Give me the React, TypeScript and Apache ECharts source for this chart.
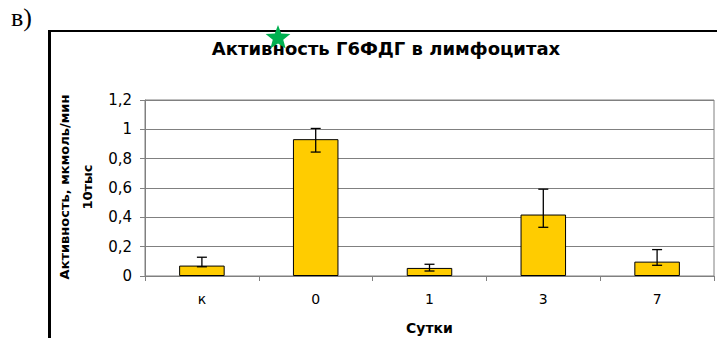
import React, { useEffect, useRef } from "react";
import * as echarts from "echarts";

// Days after exposure and G6PDH activity in lymphocytes
const days = ["к", "0", "1", "3", "7"];
const activity = [0.071, 0.933, 0.055, 0.419, 0.098];
const errLow = [0.063, 0.845, 0.034, 0.332, 0.073];
const errHigh = [0.128, 1.006, 0.08, 0.592, 0.18];
const yTicks = { min: 0, max: 1.2, interval: 0.2 };

const FONT = "DejaVu Sans";

// five-pointed star outline around a centre
function starPoints(cx: number, cy: number, rOuter: number, rInner: number) {
  const pts: number[][] = [];
  for (let i = 0; i < 10; i++) {
    const r = i % 2 === 0 ? rOuter : rInner;
    const a = -Math.PI / 2 + (i * Math.PI) / 5;
    pts.push([cx + r * Math.cos(a), cy + r * Math.sin(a)]);
  }
  return pts;
}

export default function App() {
  const ref = useRef<HTMLDivElement>(null);

  useEffect(() => {
    if (!ref.current) return;
    const chart = echarts.init(ref.current, null, { renderer: "svg" });

    const errData = days.map((_, i) => [i, errLow[i], errHigh[i]]);

    chart.setOption({
      animation: false,
      backgroundColor: "#ffffff",
      grid: {
        left: 145,
        right: 3,
        top: 100,
        bottom: 62,
        outerBoundsMode: "none",
        containLabel: false,
        show: true,
        borderColor: "#808080",
        borderWidth: 1,
      },
      xAxis: {
        type: "category",
        data: days,
        axisLine: { lineStyle: { color: "#808080", width: 1 } },
        axisTick: { show: true, inside: false, length: 5, lineStyle: { color: "#808080" } },
        axisLabel: { color: "#000", fontFamily: FONT, fontSize: 14, margin: 16 },
        name: "Сутки",
        nameLocation: "middle",
        nameGap: 45,
        nameTextStyle: { color: "#000", fontFamily: FONT, fontSize: 14, fontWeight: "bold" },
      },
      yAxis: {
        type: "value",
        min: yTicks.min,
        max: yTicks.max,
        interval: yTicks.interval,
        axisLine: { show: true, lineStyle: { color: "#808080", width: 1 } },
        axisTick: { show: true, inside: false, length: 5, lineStyle: { color: "#808080" } },
        splitLine: { show: true, lineStyle: { color: "#808080", width: 1 } },
        axisLabel: {
          color: "#000",
          fontFamily: FONT,
          fontSize: 15,
          margin: 13,
          formatter: (v: number) => String(Math.round(v * 10) / 10).replace(".", ","),
        },
      },
      series: [
        {
          type: "bar",
          data: activity,
          barWidth: "40%",
          itemStyle: { color: "#FFCC00", borderColor: "#000", borderWidth: 1 },
          z: 2,
        },
        {
          type: "custom",
          data: errData,
          z: 5,
          renderItem: (params: any, api: any) => {
            const idx = api.value(0);
            const lo = api.coord([idx, api.value(1)]);
            const hi = api.coord([idx, api.value(2)]);
            const half = 5;
            const style = { stroke: "#000", lineWidth: 1.3 };
            return {
              type: "group",
              children: [
                { type: "line", shape: { x1: hi[0], y1: hi[1], x2: lo[0], y2: lo[1] }, style },
                { type: "line", shape: { x1: hi[0] - half, y1: hi[1], x2: hi[0] + half, y2: hi[1] }, style },
                { type: "line", shape: { x1: lo[0] - half, y1: lo[1], x2: lo[0] + half, y2: lo[1] }, style },
              ],
            };
          },
        },
      ],
      graphic: [
        {
          type: "text",
          x: 11,
          y: 30,
          style: {
            text: "в)",
            fontSize: 26,
            fontFamily: "Liberation Serif",
            fill: "#000",
            textAlign: "left",
            textVerticalAlign: "bottom",
          },
        },
        {
          type: "line",
          shape: { x1: 49.5, y1: 31, x2: 49.5, y2: 338 },
          style: { stroke: "#000", lineWidth: 3 },
        },
        {
          type: "line",
          shape: { x1: 48, y1: 31, x2: 717, y2: 31 },
          style: { stroke: "#000", lineWidth: 2 },
        },
        {
          type: "text",
          x: 386,
          y: 48,
          style: {
            text: "Активность Г6ФДГ в лимфоцитах",
            font: `bold 18px "${FONT}"`,
            fill: "#000",
            textAlign: "center",
            textVerticalAlign: "middle",
          },
        },
        {
          type: "text",
          x: 64,
          y: 187,
          rotation: Math.PI / 2,
          style: {
            text: "Активность, мкмоль/мин",
            font: `bold 13px "${FONT}"`,
            fill: "#000",
            textAlign: "center",
            textVerticalAlign: "middle",
          },
        },
        {
          type: "text",
          x: 87,
          y: 187,
          rotation: Math.PI / 2,
          style: {
            text: "10тыс",
            font: `bold 13px "${FONT}"`,
            fill: "#000",
            textAlign: "center",
            textVerticalAlign: "middle",
          },
        },
        {
          type: "polygon",
          z: 100,
          shape: { points: starPoints(278, 38, 13, 5.5) },
          style: { fill: "#00B050" },
        },
      ],
    });

    return () => chart.dispose();
  }, []);

  return <div ref={ref} style={{ width: 717, height: 338, position: "absolute", left: 0, top: 0 }} />;
}
